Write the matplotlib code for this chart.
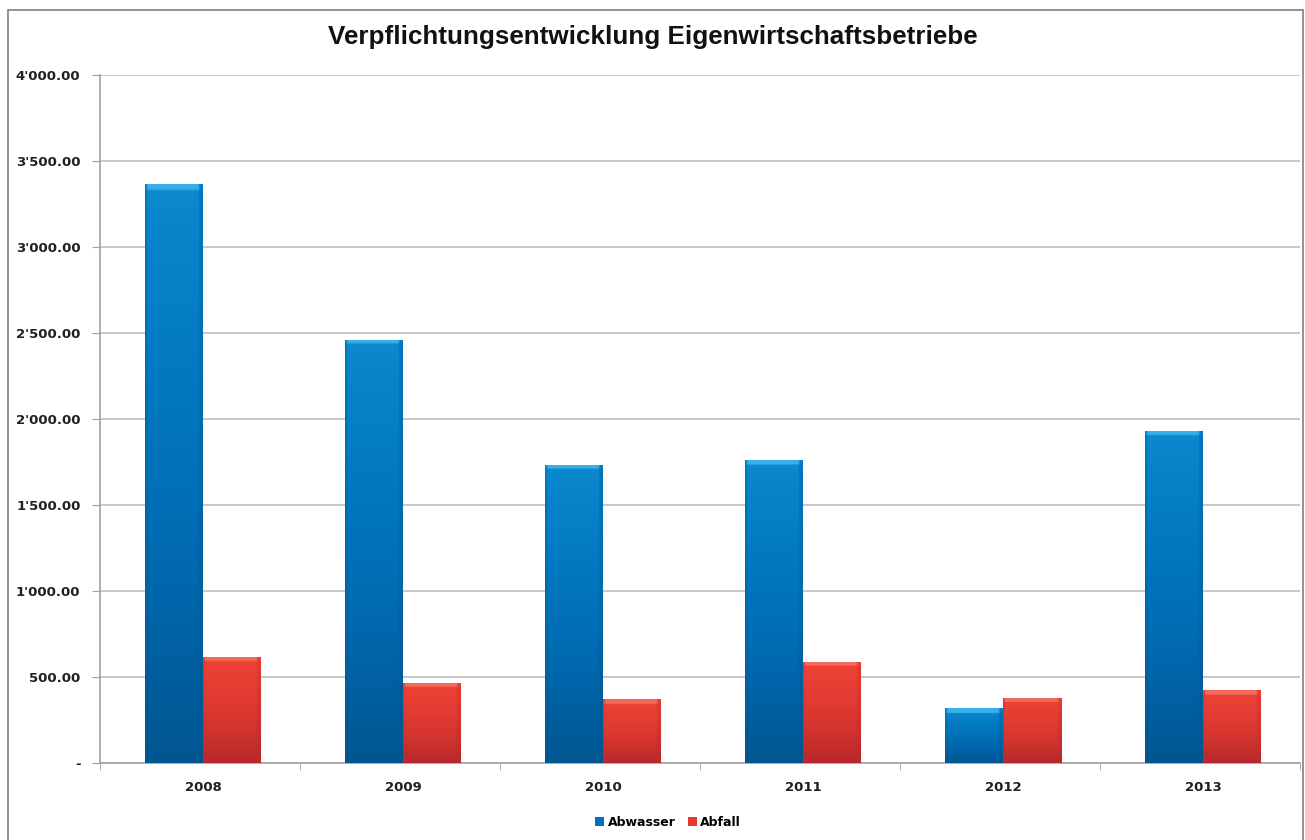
import numpy as np
import matplotlib
matplotlib.use('Agg')
import matplotlib.pyplot as plt
from matplotlib.patches import Rectangle
from matplotlib.colors import LinearSegmentedColormap
from matplotlib.ticker import FuncFormatter, FixedLocator

years = ['2008', '2009', '2010', '2011', '2012', '2013']
abwasser = [3365, 2461, 1734, 1760, 317, 1932]
abfall = [619, 467, 371, 590, 379, 423]
series_names = ['Abwasser', 'Abfall']
title = 'Verpflichtungsentwicklung Eigenwirtschaftsbetriebe'

blue_cmap = LinearSegmentedColormap.from_list('b', ['#005690', '#0068AE', '#0078C0', '#0A86CC', '#38B0E8'])
red_cmap = LinearSegmentedColormap.from_list('r', ['#B8282A', '#D2342E', '#E43C33', '#EC4236', '#F46A5A'])


def fmt(v, pos):
    if v == 0:
        return '-'
    return f'{v:,.2f}'.replace(',', "'")


def shade_bars(ax, bars, cmap):
    # vertical gradient with a light cap on top, clipped to each bar
    for b in bars:
        x, y = b.get_x(), b.get_y()
        w, h = b.get_width(), b.get_height()
        n = 200
        grad = np.linspace(0, 0.78, n)
        cap = max(2, int(n * 5.0 / max(h * 0.17225, 5)))
        grad[-cap:] = 1.0
        img = grad.reshape(-1, 1)
        edge = np.ones((1, 30))
        edge[0, :1] = 0.6
        edge[0, -2:] = 0.6
        img = img * edge
        im = ax.imshow(img, cmap=cmap, vmin=0, vmax=1, origin='lower',
                       extent=(x, x + w, y, y + h), aspect='auto', zorder=3,
                       interpolation='bilinear')
        im.set_clip_path(b)


fig = plt.figure(figsize=(13.05, 8.4), dpi=100)
fig.patches.append(Rectangle((8 / 1305, -0.1), 1295 / 1305, 1.1 - 10 / 840,
                             transform=fig.transFigure, fill=False,
                             edgecolor='#7F7F7F', linewidth=1.2))

ax = fig.add_axes([100 / 1305, 1 - 763 / 840, 1200 / 1305, (763 - 75) / 840])

x = np.arange(len(years))
width = 0.29
shift = 0.015
b1 = ax.bar(x + shift - width / 2, abwasser, width, color='#0070B8', zorder=2, label=series_names[0])
b2 = ax.bar(x + shift + width / 2, abfall, width, color='#E03A30', zorder=2, label=series_names[1])
shade_bars(ax, b1, blue_cmap)
shade_bars(ax, b2, red_cmap)

ax.set_xlim(-0.5, len(years) - 0.5)
ax.set_ylim(0, 4000)
ax.set_yticks(np.arange(0, 4001, 500))
ax.yaxis.set_major_formatter(FuncFormatter(fmt))
ax.grid(axis='y', color='#BFBFBF', linewidth=1.2, zorder=0)
ax.set_axisbelow(True)

ax.set_xticks(x + shift)
ax.set_xticklabels(years)
ax.xaxis.set_minor_locator(FixedLocator(np.arange(-0.5, len(years), 1)))
ax.tick_params(axis='x', which='major', length=0, pad=13)
ax.tick_params(axis='x', which='minor', length=5, color='#A0A0A0', direction='out')
ax.tick_params(axis='y', length=6, color='#A0A0A0', direction='out', pad=8)

for lab in ax.get_xticklabels() + ax.get_yticklabels():
    lab.set_fontfamily('DejaVu Sans')
    lab.set_fontweight('bold')
    lab.set_fontsize(9.5)
    lab.set_color('#202020')

for s in ['top', 'right']:
    ax.spines[s].set_visible(False)
ax.spines['left'].set_color('#A0A0A0')
ax.spines['bottom'].set_color('#A0A0A0')
ax.spines['left'].set_linewidth(1.2)
ax.spines['bottom'].set_linewidth(1.2)

fig.text(0.5, 1 - 37 / 840, title, ha='center', va='center',
         fontsize=18.7, fontweight='bold', family='Liberation Sans', color='#111111')

leg = fig.legend(handles=[b1, b2], labels=series_names, loc='center',
                 bbox_to_anchor=(668 / 1305, 1 - 822 / 840), ncol=2, frameon=False,
                 handlelength=0.7, handleheight=0.7, handletextpad=0.3,
                 columnspacing=1.0, prop={'family': 'DejaVu Sans', 'weight': 'bold', 'size': 9})

fig.savefig('out.png', dpi=100)
